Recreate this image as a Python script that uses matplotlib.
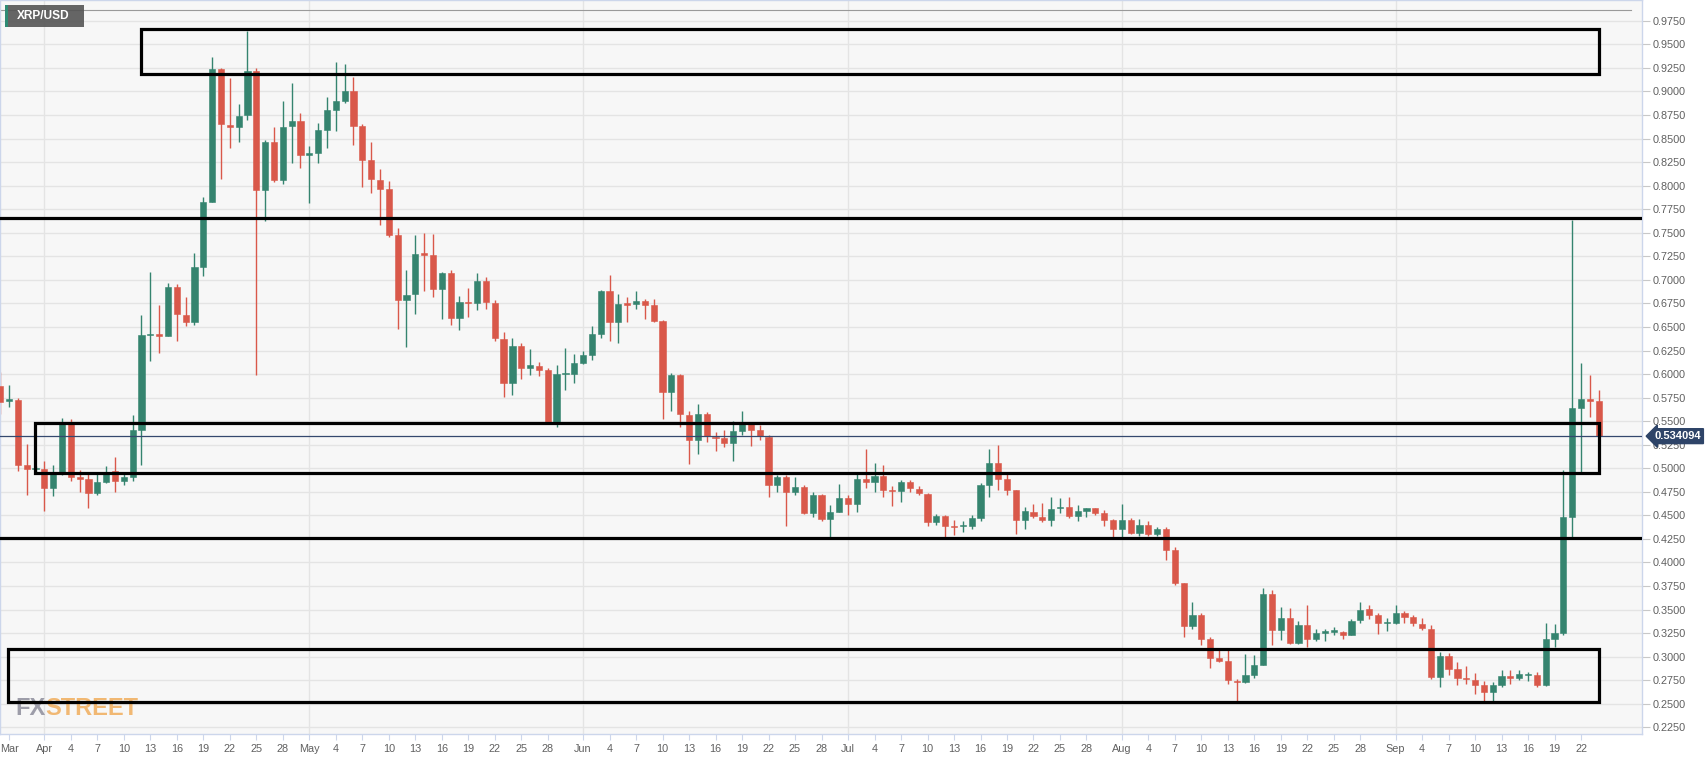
import matplotlib
matplotlib.use('Agg')
import matplotlib.pyplot as plt
import matplotlib.dates as mdates
from matplotlib.patches import Rectangle
import numpy as np
import pandas as pd

# daily XRP/USD candles, 2018-03-27 .. 2018-09-24
start_date = '2018-03-27'
opens = [0.5870, 0.5710, 0.5722, 0.5031, 0.4990, 0.4994, 0.4788, 0.4953, 0.5469, 0.4907,
         0.4891, 0.4737, 0.4850, 0.4969, 0.4865, 0.4907, 0.5402, 0.6410, 0.6423, 0.6402,
         0.6929, 0.6629, 0.6557, 0.7135, 0.7831, 0.9234, 0.8646, 0.8620, 0.8749, 0.9214,
         0.7950, 0.8460, 0.8063, 0.8631, 0.8682, 0.8321, 0.8342, 0.8590, 0.8806, 0.8899,
         0.9007, 0.8631, 0.8270, 0.8063, 0.7960, 0.7480, 0.6784, 0.6846, 0.7279, 0.7269,
         0.6908, 0.7073, 0.6593, 0.6764, 0.6754, 0.6990, 0.6754, 0.6377, 0.5907, 0.6294,
         0.6062, 0.6088, 0.6041, 0.5484, 0.6000, 0.6000, 0.6114, 0.6206, 0.6428, 0.6887,
         0.6557, 0.6743, 0.6743, 0.6774, 0.6733, 0.6567, 0.5814, 0.5985, 0.5562, 0.5299,
         0.5572, 0.5335, 0.5319, 0.5268, 0.5392, 0.5474, 0.5402, 0.5335, 0.4824, 0.4902,
         0.4750, 0.4798, 0.4528, 0.4711, 0.4463, 0.4540, 0.4685, 0.4618, 0.4891, 0.4850,
         0.4917, 0.4772, 0.4762, 0.4850, 0.4778, 0.4727, 0.4427, 0.4489, 0.4390, 0.4386,
         0.4390, 0.4468, 0.4824, 0.5061, 0.4891, 0.4767, 0.4453, 0.4540, 0.4484, 0.4453,
         0.4577, 0.4587, 0.4494, 0.4550, 0.4577, 0.4530, 0.4453, 0.4350, 0.4453, 0.4309,
         0.4401, 0.4298, 0.4350, 0.4128, 0.3782, 0.3328, 0.3447, 0.3189, 0.2983, 0.2957,
         0.2740, 0.2735, 0.2802, 0.2916, 0.3669, 0.3282, 0.3411, 0.3146, 0.3333, 0.3184,
         0.3256, 0.3267, 0.3267, 0.3230, 0.3385, 0.3503, 0.3447, 0.3354, 0.3354, 0.3463,
         0.3421, 0.3344, 0.3292, 0.2787, 0.3010, 0.2864, 0.2771, 0.2750, 0.2699, 0.2621,
         0.2699, 0.2792, 0.2771, 0.2807, 0.2802, 0.2699, 0.3184, 0.3256, 0.4479, 0.5639,
         0.5732, 0.5716]
highs = [0.6026, 0.5882, 0.5742, 0.5257, 0.5020, 0.5072, 0.5030, 0.5536, 0.5526, 0.4979,
         0.4943, 0.4943, 0.5020, 0.5123, 0.4943, 0.5562, 0.6629, 0.7083, 0.6733, 0.6970,
         0.6954, 0.6815, 0.7290, 0.7883, 0.9368, 0.9250, 0.9147, 0.8863, 0.9647, 0.9250,
         0.8486, 0.8620, 0.8899, 0.9085, 0.8770, 0.8424, 0.8667, 0.8940, 0.9312, 0.9291,
         0.9157, 0.8657, 0.8460, 0.8177, 0.8048, 0.7548, 0.7109, 0.7475, 0.7496, 0.7486,
         0.7083, 0.7109, 0.6825, 0.6913, 0.7068, 0.7032, 0.6784, 0.6444, 0.6382, 0.6335,
         0.6268, 0.6124, 0.6067, 0.6093, 0.6273, 0.6217, 0.6248, 0.6506, 0.6897, 0.7047,
         0.6851, 0.6815, 0.6877, 0.6795, 0.6795, 0.6578, 0.6010, 0.6000, 0.5613, 0.5680,
         0.5598, 0.5381, 0.5407, 0.5505, 0.5613, 0.5495, 0.5459, 0.5356, 0.4927, 0.4927,
         0.4907, 0.4824, 0.4750, 0.4730, 0.4608, 0.4830, 0.4711, 0.4943, 0.5201, 0.5061,
         0.5030, 0.4814, 0.4876, 0.4876, 0.4814, 0.4737, 0.4515, 0.4504, 0.4453, 0.4442,
         0.4504, 0.4840, 0.5201, 0.5242, 0.4943, 0.4772, 0.4592, 0.4623, 0.4633, 0.4695,
         0.4685, 0.4695, 0.4608, 0.4582, 0.4582, 0.4556, 0.4463, 0.4623, 0.4473, 0.4463,
         0.4442, 0.4375, 0.4375, 0.4159, 0.3782, 0.3576, 0.3463, 0.3204, 0.3070, 0.3070,
         0.2760, 0.3024, 0.3019, 0.3731, 0.3705, 0.3524, 0.3514, 0.3379, 0.3550, 0.3292,
         0.3292, 0.3318, 0.3277, 0.3395, 0.3576, 0.3544, 0.3463, 0.3406, 0.3544, 0.3483,
         0.3447, 0.3406, 0.3333, 0.3047, 0.3042, 0.2941, 0.2905, 0.2827, 0.2739, 0.2735,
         0.2854, 0.2854, 0.2854, 0.2833, 0.2833, 0.3359, 0.3344, 0.4979, 0.7640, 0.6114,
         0.5990, 0.5830]
lows = [0.5577, 0.5650, 0.4969, 0.4711, 0.4943, 0.4546, 0.4710, 0.4927, 0.4865, 0.4747,
        0.4582, 0.4711, 0.4840, 0.4750, 0.4819, 0.4865, 0.5030, 0.6134, 0.6227, 0.6402,
        0.6346, 0.6506, 0.6526, 0.7042, 0.7831, 0.8074, 0.8399, 0.8460, 0.8693, 0.5990,
        0.7620, 0.8037, 0.8022, 0.8244, 0.8187, 0.7821, 0.8244, 0.8399, 0.8579, 0.8878,
        0.8435, 0.7986, 0.7919, 0.7584, 0.7460, 0.6475, 0.6284, 0.6635, 0.6887, 0.6815,
        0.6583, 0.6516, 0.6464, 0.6609, 0.6681, 0.6691, 0.6351, 0.5753, 0.5783, 0.5949,
        0.5985, 0.5980, 0.5474, 0.5443, 0.5830, 0.5907, 0.6103, 0.6145, 0.6387, 0.6346,
        0.6335, 0.6557, 0.6696, 0.6583, 0.6552, 0.5526, 0.5603, 0.5433, 0.5046, 0.5155,
        0.5278, 0.5185, 0.5227, 0.5082, 0.5350, 0.5237, 0.5304, 0.4700, 0.4750, 0.4390,
        0.4721, 0.4513, 0.4487, 0.4437, 0.4247, 0.4540, 0.4503, 0.4540, 0.4788, 0.4750,
        0.4695, 0.4597, 0.4643, 0.4750, 0.4711, 0.4390, 0.4400, 0.4247, 0.4293, 0.4319,
        0.4359, 0.4437, 0.4695, 0.4772, 0.4721, 0.4298, 0.4359, 0.4468, 0.4427, 0.4386,
        0.4525, 0.4468, 0.4443, 0.4478, 0.4504, 0.4386, 0.4267, 0.4267, 0.4298, 0.4283,
        0.4283, 0.4283, 0.4030, 0.3756, 0.3204, 0.3292, 0.3122, 0.2879, 0.2947, 0.2714,
        0.2529, 0.2724, 0.2776, 0.2916, 0.3122, 0.3173, 0.3135, 0.3135, 0.3101, 0.3163,
        0.3163, 0.3225, 0.3184, 0.3230, 0.3359, 0.3395, 0.3236, 0.3277, 0.3344, 0.3359,
        0.3328, 0.3287, 0.2766, 0.2683, 0.2802, 0.2698, 0.2709, 0.2605, 0.2529, 0.2529,
        0.2673, 0.2709, 0.2750, 0.2745, 0.2673, 0.2689, 0.3101, 0.3225, 0.4272, 0.4958,
        0.5546, 0.534094]
closes = [0.5701, 0.5730, 0.5036, 0.4990, 0.5005, 0.4788, 0.4943, 0.5469, 0.4907, 0.4886,
          0.4737, 0.4850, 0.4958, 0.4865, 0.4907, 0.5402, 0.6413, 0.6423, 0.6402, 0.6929,
          0.6640, 0.6557, 0.7135, 0.7831, 0.9234, 0.8657, 0.8620, 0.8739, 0.9214, 0.7950,
          0.8466, 0.8063, 0.8620, 0.8682, 0.8321, 0.8342, 0.8590, 0.8806, 0.8899, 0.9007,
          0.8631, 0.8270, 0.8074, 0.7960, 0.7480, 0.6784, 0.6836, 0.7279, 0.7269, 0.6908,
          0.7073, 0.6593, 0.6764, 0.6754, 0.6990, 0.6764, 0.6387, 0.5907, 0.6294, 0.6062,
          0.6093, 0.6041, 0.5484, 0.6000, 0.6005, 0.6114, 0.6206, 0.6428, 0.6887, 0.6557,
          0.6743, 0.6738, 0.6774, 0.6738, 0.6567, 0.5814, 0.5985, 0.5572, 0.5299, 0.5572,
          0.5345, 0.5325, 0.5268, 0.5392, 0.5474, 0.5402, 0.5345, 0.4824, 0.4902, 0.4750,
          0.4798, 0.4528, 0.4711, 0.4463, 0.4540, 0.4685, 0.4618, 0.4891, 0.4850, 0.4917,
          0.4772, 0.4762, 0.4850, 0.4788, 0.4737, 0.4427, 0.4489, 0.4386, 0.4380, 0.4401,
          0.4468, 0.4824, 0.5061, 0.4891, 0.4772, 0.4453, 0.4546, 0.4494, 0.4453, 0.4566,
          0.4592, 0.4494, 0.4546, 0.4582, 0.4530, 0.4453, 0.4350, 0.4453, 0.4309, 0.4401,
          0.4298, 0.4350, 0.4128, 0.3782, 0.3328, 0.3447, 0.3189, 0.2983, 0.2957, 0.2750,
          0.2729, 0.2802, 0.2916, 0.3669, 0.3282, 0.3411, 0.3146, 0.3333, 0.3184, 0.3256,
          0.3267, 0.3272, 0.3230, 0.3380, 0.3497, 0.3447, 0.3354, 0.3370, 0.3463, 0.3421,
          0.3354, 0.3303, 0.2787, 0.3010, 0.2864, 0.2771, 0.2761, 0.2699, 0.2621, 0.2699,
          0.2792, 0.2771, 0.2812, 0.2812, 0.2699, 0.3184, 0.3256, 0.4479, 0.5639, 0.5732,
          0.5716, 0.534094]

last_price = 0.534094
resistance_lines = [0.766, 0.4262]
# (start offset from Apr 1 in days, end offset, low, high)
zones = [(10.9, 176.04, 0.9183, 0.9662),
         (-1.05, 176.04, 0.4953, 0.5484),
         (-4.08, 176.04, 0.2514, 0.3081)]

up_color = '#35846f'
down_color = '#d9584a'
label_font = ['Liberation Sans', 'DejaVu Sans']

dates = pd.date_range(start_date, periods=len(opens), freq='D')
x = mdates.date2num(dates)
o = np.array(opens)
h = np.array(highs)
l = np.array(lows)
c = np.array(closes)
up = c >= o
colors = np.where(up, up_color, down_color)

apr1 = mdates.date2num(pd.Timestamp('2018-04-01'))

fig = plt.figure(figsize=(17.07, 7.6), dpi=100, facecolor='white')
ax = fig.add_axes([0.0, 26 / 760, 1642 / 1707, 734 / 760])
ax.set_facecolor('#f7f7f7')

ax.set_xlim(apr1 - 5.02, apr1 + 180.9)
ax.set_ylim(0.2179, 0.9971)

# grid
yt = np.arange(0.225, 0.9751, 0.025)
for v in yt:
    ax.axhline(v, color='#e4e4e4', lw=1, zorder=0)
month_starts = pd.date_range('2018-04-01', '2018-09-01', freq='MS')
for m in month_starts:
    ax.axvline(mdates.date2num(m), color='#e4e4e4', lw=1, zorder=0)

ax.axhline(0.9867, xmax=1631 / 1642, color='#9a9a9a', lw=0.8, zorder=1)

# candles
ax.vlines(x, l, h, colors=colors, lw=1.0, zorder=2)
body = np.maximum(np.abs(c - o), 0.0012)
ax.bar(x, body, bottom=np.minimum(o, c), width=0.7, color=colors,
       edgecolor=colors, linewidth=0.4, zorder=3)

# last price line
ax.axhline(last_price, color='#34486e', lw=0.9, zorder=4)

# drawn levels and zones
for lv in resistance_lines:
    ax.axhline(lv, color='black', lw=2.3, zorder=5)
for x0, x1, y0, y1 in zones:
    ax.add_patch(Rectangle((apr1 + x0, y0), x1 - x0, y1 - y0, fill=False,
                           edgecolor='black', lw=2.3, zorder=5))

# y axis on the right
ax.yaxis.tick_right()
ax.set_yticks(yt)
ax.set_yticklabels([f'{v:.4f}' for v in yt], fontfamily=label_font, fontsize=7.8, color='#606060')
ax.tick_params(axis='y', length=6, width=0.8, color='#c8c8c8', pad=2)

# x axis ticks
tick_dates = [pd.Timestamp('2018-03-28')]
tick_labels = ['Mar']
for m in month_starts:
    for d in [1, 4, 7, 10, 13, 16, 19, 22, 25, 28]:
        t = m + pd.Timedelta(days=d - 1)
        if t > pd.Timestamp('2018-09-22'):
            break
        tick_dates.append(t)
        tick_labels.append(m.strftime('%b') if d == 1 else str(d))
ax.set_xticks(mdates.date2num(tick_dates))
ax.set_xticklabels(tick_labels, fontfamily=label_font, fontsize=7.8, color='#606060')
ax.tick_params(axis='x', length=4, width=0.8, color='#ccd6eb', pad=3)

for s in ['left', 'right', 'bottom', 'top']:
    ax.spines[s].set_color('#ccd6eb')
    ax.spines[s].set_linewidth(1)

# current price tag
ax.text(1.0075, last_price, f'{last_price:.6f}', transform=ax.get_yaxis_transform(),
        ha='left', va='center', fontsize=8, fontweight='bold', color='white',
        fontfamily=label_font, clip_on=False, zorder=10,
        bbox=dict(boxstyle='larrow,pad=0.22', facecolor='#2e4468', edgecolor='#2e4468'))

# symbol tag
ax.add_patch(Rectangle((5 / 1642, 1 - 27 / 734), 79 / 1642, 22 / 734, transform=ax.transAxes,
                       facecolor='#555555', alpha=0.9, edgecolor='none', zorder=8))
ax.add_patch(Rectangle((5 / 1642, 1 - 27 / 734), 3 / 1642, 22 / 734, transform=ax.transAxes,
                       facecolor='#2e8b74', edgecolor='none', zorder=9))
ax.text(17 / 1642, 1 - 16 / 734, 'XRP/USD', transform=ax.transAxes, ha='left', va='center',
        fontsize=8.6, fontweight='bold', color='white', fontfamily=label_font, zorder=9)

# watermark, STREET placed right after FX
fx = ax.text(15 / 1642, 19 / 734, 'FX', transform=ax.transAxes, ha='left', va='baseline',
             fontsize=17, fontweight='bold', color='#8e8e9c', alpha=0.85,
             fontfamily=label_font, zorder=4)
ax.annotate('STREET', xy=(1, 0), xycoords=fx, ha='left', va='bottom',
            fontsize=17, fontweight='bold', color='#f0ad5c', alpha=0.85,
            fontfamily=label_font, zorder=4)

fig.savefig('out.png', dpi=100, facecolor='white')
